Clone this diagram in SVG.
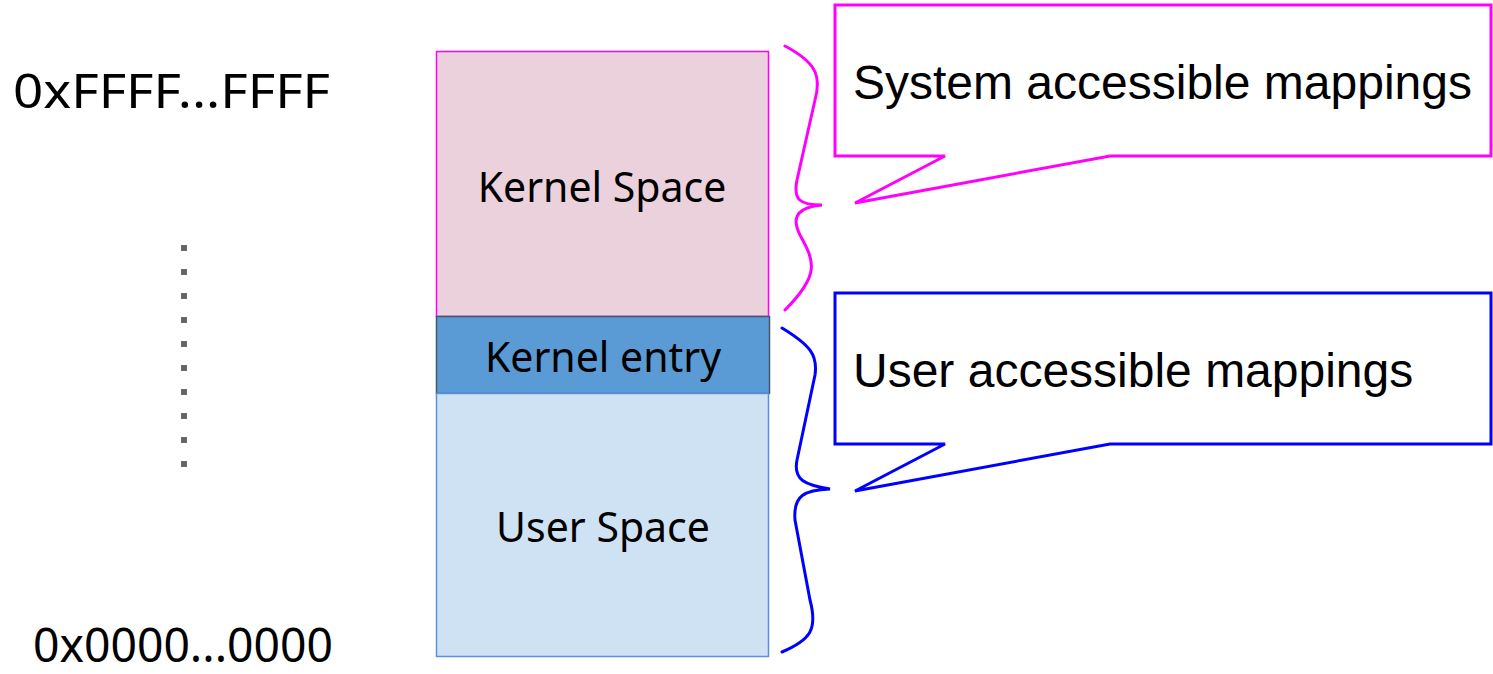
<svg xmlns="http://www.w3.org/2000/svg" width="1493" height="674" viewBox="0 0 1493 674">
<style>
.addr{font-family:"Noto Sans","Open Sans",sans-serif;font-size:47px;fill:#000}
.blk{font-family:"Noto Sans","Open Sans",sans-serif;font-size:41px;fill:#000;text-anchor:middle}
.call{font-family:"Liberation Sans",Arial,sans-serif;font-size:48px;fill:#000}
.brace{fill:none;stroke-width:3;stroke-linecap:round}
</style>
<rect width="1493" height="674" fill="#fff"/>
<g id="addr-high"><text class="addr" x="13" y="108" textLength="317" lengthAdjust="spacingAndGlyphs">0xFFFF...FFFF</text></g>
<g id="addr-low"><text class="addr" x="33" y="662" textLength="300" lengthAdjust="spacingAndGlyphs">0x0000...0000</text></g>
<g id="dots"><line x1="184" y1="245" x2="184" y2="470" stroke="#666" stroke-width="6" stroke-dasharray="6 18"/></g>
<g id="kernel-space">
<rect x="436.5" y="51.5" width="332" height="265" fill="#EAD1DC" stroke="#FF00FF" stroke-width="1.5"/>
<text class="blk" x="602" y="202">Kernel Space</text>
</g>
<g id="kernel-entry">
<rect x="436.5" y="316.5" width="333" height="77" fill="#5B9BD5" stroke="#44546A" stroke-width="1.5"/>
<text class="blk" x="603" y="372">Kernel entry</text>
</g>
<g id="user-space">
<rect x="436.5" y="393.5" width="332" height="263" fill="#CFE2F3" stroke="#5B8FE0" stroke-width="1.5"/>
<text class="blk" x="603" y="542">User Space</text>
</g>
<g id="connectors">
<path class="brace" stroke="#FF00FF" d="M785,46 C815,62 822,75 815,100 L797,180 C793,200 800,205 822,205 C800,207 790,215 800,235 C815,262 820,275 785,310"/>
<path class="brace" stroke="#0000FF" d="M782,328 C810,345 818,355 815,375 L797,460 C793,480 805,485 830,489 C805,490 793,495 795,520 L810,600 C818,630 810,640 782,652"/>
</g>
<g id="callout-system">
<path d="M835,5 H1491 V156 H1110 L855,203 L945,156 H835 Z" fill="#fff" stroke="#FF00FF" stroke-width="3"/>
<text class="call" x="853" y="99">System accessible mappings</text>
</g>
<g id="callout-user">
<path d="M835,293 H1491 V444 H1110 L855,491 L945,444 H835 Z" fill="#fff" stroke="#0000FF" stroke-width="3"/>
<text class="call" x="853" y="387">User accessible mappings</text>
</g>
</svg>
